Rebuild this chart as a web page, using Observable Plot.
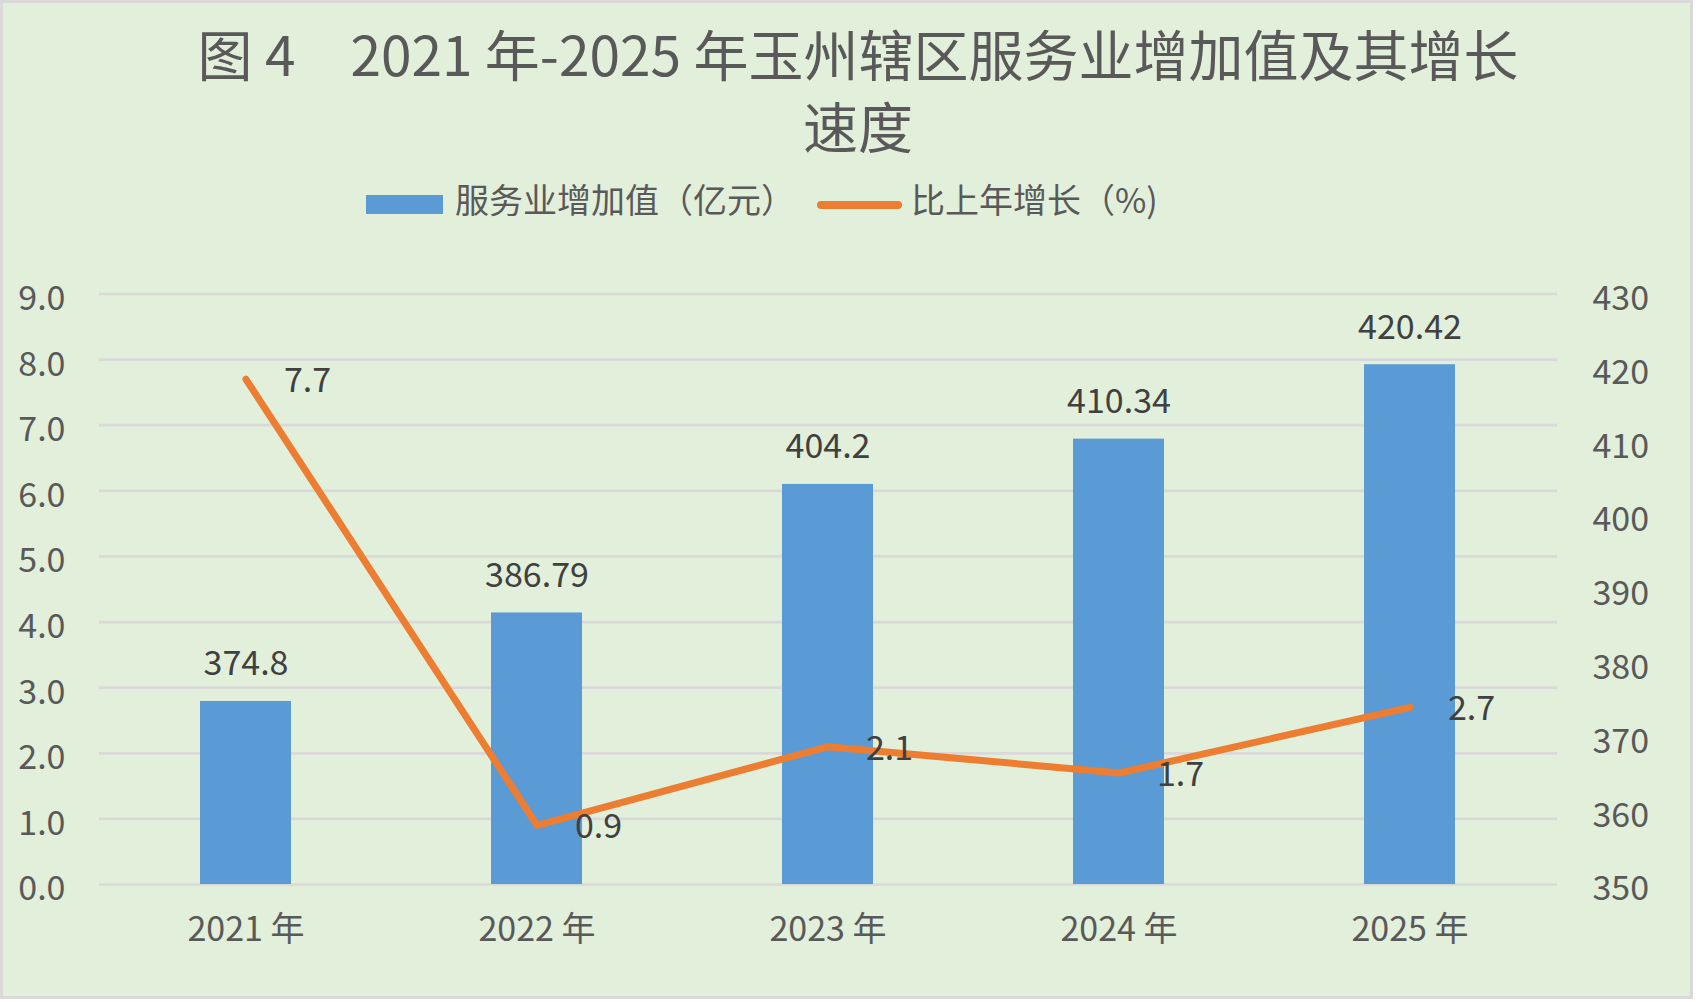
<!DOCTYPE html>
<html>
<head>
<meta charset="utf-8">
<script src="https://cdn.jsdelivr.net/npm/d3@7"></script>
<script src="https://cdn.jsdelivr.net/npm/@observablehq/plot@0.6"></script>
<style>
  body { margin: 0; background: #ffffff; font-family: "Noto Sans CJK SC", "Noto Sans", sans-serif; }
  #page { position: absolute; left: 0; top: 0; width: 1699px; height: 1002px; overflow: hidden; background: #ffffff; }
  #bg { position: absolute; left: 0; top: 0; width: 1693px; height: 999px; box-sizing: border-box; border: 3px solid #D9D9D9; background: #E2EFDA; }
  #title { position: absolute; left: 58px; top: 16px; width: 1600px; text-align: center; font-size: 55px; line-height: 72px; color: #595959; white-space: pre; }
  .leg { position: absolute; }
  .legtext { position: absolute; font-size: 34px; line-height: 40px; color: #595959; white-space: pre; }
  #plot { position: absolute; left: 0; top: 240px; }
</style>
</head>
<body>
<div id="page">
  <div id="bg"></div>
  <div id="title"></div>
  <div class="leg" style="left:366px; top:195px; width:77px; height:19px; background:#5B9BD5;"></div>
  <div class="legtext" id="leg1" style="left:455px; top:179px;"></div>
  <div class="leg" style="left:817px; top:201px; width:85px; height:8px; border-radius:4px; background:#ED7D31;"></div>
  <div class="legtext" id="leg2" style="left:911px; top:179px;"></div>
  <div id="plot"></div>
</div>
<script>
const titleLines = ["图 4\u30002021 年-2025 年玉州辖区服务业增加值及其增长", "速度"];
const legendLabels = ["服务业增加值（亿元）", "比上年增长（%)"];
const years = ["2021", "2022", "2023", "2024", "2025"];
const serviceValue = [374.8, 386.79, 404.2, 410.34, 420.42];   // 亿元, right axis
const growthRate = [7.7, 0.9, 2.1, 1.7, 2.7];                  // %, left axis
const leftTicks = [0, 1, 2, 3, 4, 5, 6, 7, 8, 9];
const rightTicks = [350, 360, 370, 380, 390, 400, 410, 420, 430];

document.getElementById("title").textContent = titleLines.join("\n");
document.getElementById("leg1").textContent = legendLabels[0];
document.getElementById("leg2").textContent = legendLabels[1];

// right axis [350, 430] mapped onto left axis [0, 9]
const rMin = 350, rMax = 430, lMax = 9;
const toLeft = v => (v - rMin) / (rMax - rMin) * lMax;
const fromLeft = y => Math.round(y / lMax * (rMax - rMin) + rMin);

const data = years.map((y, i) => ({year: y, value: serviceValue[i], growth: growthRate[i]}));

const chart = Plot.plot({
  width: 1699,
  height: 762,
  marginLeft: 99,
  marginRight: 142,
  marginTop: 53.5,
  marginBottom: 118,
  style: {fontFamily: '"Noto Sans CJK SC", "Noto Sans", sans-serif', fontSize: "34px", color: "#595959", background: "transparent", overflow: "visible"},
  x: {type: "band", domain: years, paddingInner: 0.686, paddingOuter: 0.343},
  y: {domain: [0, 9]},
  marks: [
    Plot.ruleY(leftTicks, {stroke: "#D9D9D9", strokeWidth: 2.7}),
    Plot.barY(data, {x: "year", y1: 0, y2: d => toLeft(d.value), fill: "#5B9BD5"}),
    Plot.lineY(data, {x: "year", y: "growth", stroke: "#ED7D31", strokeWidth: 7, strokeLinecap: "round", strokeLinejoin: "round"}),
    Plot.text(data, {x: "year", y: d => toLeft(d.value), text: d => String(d.value), dy: -37, fill: "#404040", fontSize: 34}),
    Plot.text(data, {x: "year", y: "growth", text: d => d.growth.toFixed(1), dx: 38, dy: 2, textAnchor: "start", fill: "#404040", fontSize: 34}),
    Plot.axisY(leftTicks, {anchor: "left", tickSize: 0, tickPadding: 34, dy: 5, tickFormat: d => d.toFixed(1), fill: "#595959", fontSize: 34, label: null}),
    Plot.axisY(rightTicks.map(toLeft), {anchor: "right", tickSize: 0, tickPadding: 35, dy: 5, tickFormat: d => String(fromLeft(d)), fill: "#595959", fontSize: 34, label: null}),
    Plot.axisX({tickSize: 0, tickPadding: 32, tickFormat: d => d + " 年", fill: "#595959", fontSize: 34, label: null})
  ]
});
document.getElementById("plot").appendChild(chart);
</script>
</body>
</html>
